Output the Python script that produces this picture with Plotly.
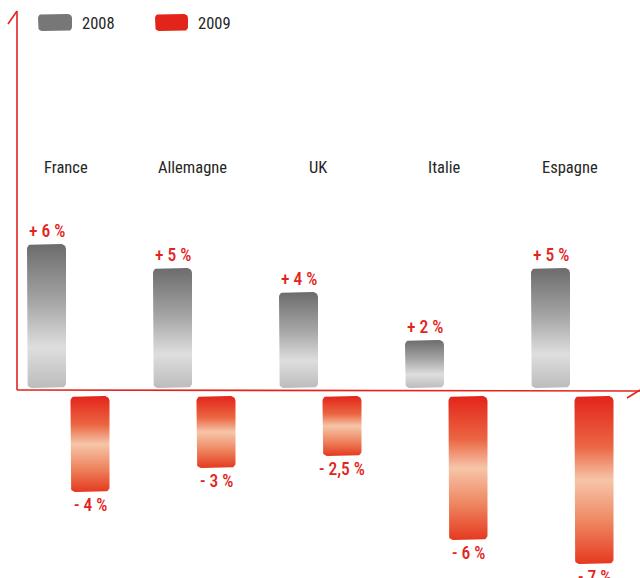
import math
import plotly.graph_objects as go

# ---------------- data ----------------
countries = ["France", "Allemagne", "UK", "Italie", "Espagne"]
growth_2008 = [6, 5, 4, 2, 5]
growth_2009 = [-4, -3, -2.5, -6, -7]
series_names = ["2008", "2009"]

# ---------------- layout helpers (pixel <-> data) ----------------
W, H = 640, 578
PX_PER_CAT = 126.0
PX_PER_PCT = 24.0
BASE_PX = 388.0
X0 = -68.0 / PX_PER_CAT
X1 = X0 + W / PX_PER_CAT
Y_TOP = BASE_PX / PX_PER_PCT
Y_BOT = -(H - BASE_PX) / PX_PER_PCT


def xd(px):
    return X0 + px / PX_PER_CAT


def yd(py):
    return (BASE_PX - py) / PX_PER_PCT


BAR_W = 39 / PX_PER_CAT
OFF_A = -21.5 / PX_PER_CAT
OFF_B = 22.0 / PX_PER_CAT
NEG_GAP = 8 / PX_PER_PCT

RED = "#e3241b"
FONT = "Roboto Condensed, DejaVu Sans Condensed, sans-serif"

GRAY_SCALE = [[0, "#bcbcbc"], [0.28, "#dedede"], [0.6, "#a5a5a5"], [1, "#6c6c6c"]]
RED_SCALE = [[0, "#e5391f"], [0.25, "#ee8660"], [0.5, "#f6c5a9"], [0.7, "#eb6642"], [1, "#e3241b"]]


def rrect(xa, xb, ya, yb, r_px=5, n=6):
    rx = r_px / PX_PER_CAT
    ry = r_px / PX_PER_PCT
    ylo, yhi = min(ya, yb), max(ya, yb)
    corners = [(xb - rx, yhi - ry, 0), (xa + rx, yhi - ry, 90),
               (xa + rx, ylo + ry, 180), (xb - rx, ylo + ry, 270)]
    xs, ys = [], []
    for cx, cy, a0 in corners:
        for k in range(n + 1):
            a = math.radians(a0 + 90 * k / n)
            xs.append(cx + rx * math.cos(a))
            ys.append(cy + ry * math.sin(a))
    xs.append(xs[0])
    ys.append(ys[0])
    return xs, ys


def fmt(v):
    s = ("%g" % abs(v)).replace(".", ",")
    return ("+ " if v > 0 else "- ") + s + " %"


fig = go.Figure()
annotations = []
VAL_FONT = dict(family=FONT, size=17.5, color=RED, weight=500)
CAT_FONT = dict(family=FONT, size=16.5, color="#262626")

for i, name in enumerate(countries):
    # 2008 bar (positive)
    v = growth_2008[i]
    cx = i + OFF_A
    xs, ys = rrect(cx - BAR_W / 2, cx + BAR_W / 2, 0, v)
    fig.add_trace(go.Scatter(x=xs, y=ys, mode="lines", fill="toself",
                             line=dict(width=0, color="rgba(0,0,0,0)"),
                             fillgradient=dict(type="vertical", colorscale=GRAY_SCALE),
                             hoverinfo="skip", showlegend=False))
    annotations.append(dict(x=cx, y=v, text=fmt(v), showarrow=False,
                            yanchor="bottom", yshift=1, font=VAL_FONT))
    # 2009 bar (negative)
    v2 = growth_2009[i]
    cx2 = i + OFF_B
    xs, ys = rrect(cx2 - BAR_W / 2, cx2 + BAR_W / 2, -NEG_GAP, v2 - NEG_GAP)
    fig.add_trace(go.Scatter(x=xs, y=ys, mode="lines", fill="toself",
                             line=dict(width=0, color="rgba(0,0,0,0)"),
                             fillgradient=dict(type="vertical", colorscale=RED_SCALE),
                             hoverinfo="skip", showlegend=False))
    annotations.append(dict(x=cx2, y=v2 - NEG_GAP, text=fmt(v2), showarrow=False,
                            yanchor="top", yshift=-1, font=VAL_FONT))
    # country label
    annotations.append(dict(x=i - 2 / PX_PER_CAT, y=yd(167), text=name, showarrow=False,
                            yanchor="middle", font=CAT_FONT))

# legend (manual)
leg_colors = ["#777777", RED]
leg_box_px = [(38, 72), (155, 188)]
for (a, b), col, nm in zip(leg_box_px, leg_colors, series_names):
    xs, ys = rrect(xd(a), xd(b), yd(31), yd(14), r_px=4)
    fig.add_trace(go.Scatter(x=xs, y=ys, mode="lines", fill="toself", fillcolor=col,
                             line=dict(width=0, color="rgba(0,0,0,0)"),
                             hoverinfo="skip", showlegend=False))
    annotations.append(dict(x=xd(b + 8), y=yd(23), text=nm, showarrow=False,
                            xanchor="left", yanchor="middle",
                            font=dict(family=FONT, size=16.5, color="#262626")))

# axes drawn as lines
line_style = dict(color=RED, width=1.6)
shapes = [
    dict(type="line", x0=xd(17), y0=yd(390), x1=xd(17), y1=yd(11), line=line_style),
    dict(type="line", x0=xd(8), y0=yd(24), x1=xd(17), y1=yd(11), line=line_style),
    dict(type="line", x0=xd(17), y0=yd(390), x1=xd(640), y1=yd(391), line=line_style),
    dict(type="line", x0=xd(627), y0=yd(398), x1=xd(640), y1=yd(390), line=line_style),
]

fig.update_layout(
    width=W, height=H,
    margin=dict(l=0, r=0, t=0, b=0),
    paper_bgcolor="white", plot_bgcolor="white",
    xaxis=dict(visible=False, range=[X0, X1], fixedrange=True),
    yaxis=dict(visible=False, range=[Y_BOT, Y_TOP], fixedrange=True),
    showlegend=False,
    annotations=annotations,
    shapes=shapes,
)

fig.write_html("out.html", config={"displayModeBar": False},
               post_script="document.body.style.margin='0';document.body.style.overflow='hidden';")
